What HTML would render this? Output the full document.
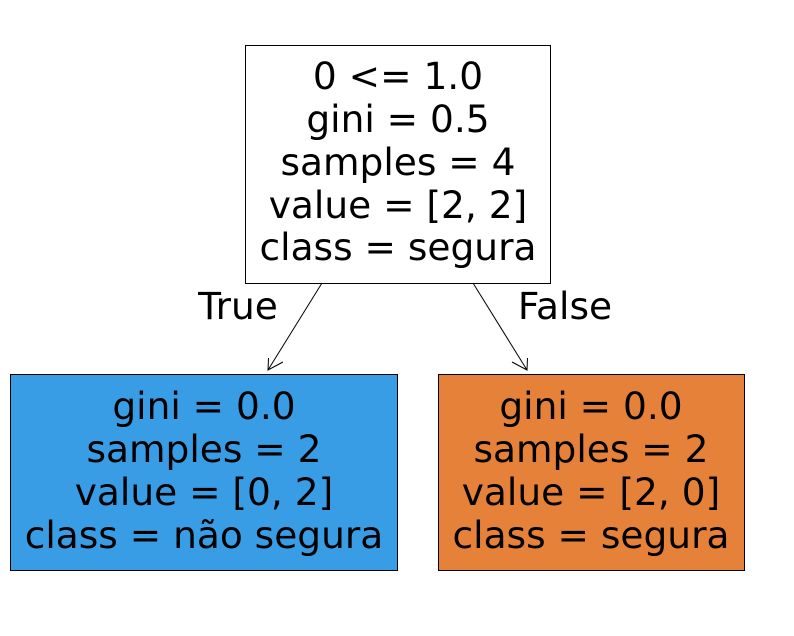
<!DOCTYPE html>
<html>
<head>
<meta charset="utf-8">
<style>
html,body{margin:0;padding:0;background:#fff;}
svg{display:block;}
text{font-family:"DejaVu Sans","Liberation Sans",sans-serif;font-size:37.5px;fill:#000;}
</style>
</head>
<body>
<svg width="794" height="636" viewBox="0 0 794 636">
  <g>
    <rect x="245.5" y="45.5" width="305" height="238" fill="#ffffff" stroke="#000" stroke-width="1"/>
    <text x="398" y="76" text-anchor="middle" dominant-baseline="central">0 &lt;= 1.0</text>
    <text x="398" y="119" text-anchor="middle" dominant-baseline="central">gini = 0.5</text>
    <text x="398" y="162" text-anchor="middle" dominant-baseline="central">samples = 4</text>
    <text x="398" y="205" text-anchor="middle" dominant-baseline="central">value = [2, 2]</text>
    <text x="398" y="247" text-anchor="middle" dominant-baseline="central">class = segura</text>
  </g>
  <g>
    <rect x="10.5" y="374.5" width="387" height="196" fill="#399de5" stroke="#000" stroke-width="1"/>
    <text x="204" y="406" text-anchor="middle" dominant-baseline="central">gini = 0.0</text>
    <text x="204" y="449" text-anchor="middle" dominant-baseline="central">samples = 2</text>
    <text x="204" y="492" text-anchor="middle" dominant-baseline="central">value = [0, 2]</text>
    <text x="204" y="535" text-anchor="middle" dominant-baseline="central">class = não segura</text>
  </g>
  <g>
    <rect x="438.5" y="374.5" width="306" height="196" fill="#e58139" stroke="#000" stroke-width="1"/>
    <text x="591" y="406" text-anchor="middle" dominant-baseline="central">gini = 0.0</text>
    <text x="591" y="449" text-anchor="middle" dominant-baseline="central">samples = 2</text>
    <text x="591" y="492" text-anchor="middle" dominant-baseline="central">value = [2, 0]</text>
    <text x="591" y="535" text-anchor="middle" dominant-baseline="central">class = segura</text>
  </g>
  <g stroke="#000" stroke-width="1" fill="none">
    <line x1="322" y1="283" x2="268" y2="370"/>
    <polyline points="268.5,358 268,370 283,362"/>
  </g>
  <g stroke="#000" stroke-width="1" fill="none">
    <line x1="473" y1="283" x2="527" y2="370"/>
    <polyline points="512,362 527,370 527.5,358"/>
  </g>
  <text x="238" y="306" text-anchor="middle" dominant-baseline="central">True</text>
  <text x="565" y="306" text-anchor="middle" dominant-baseline="central">False</text>
</svg>
</body>
</html>
